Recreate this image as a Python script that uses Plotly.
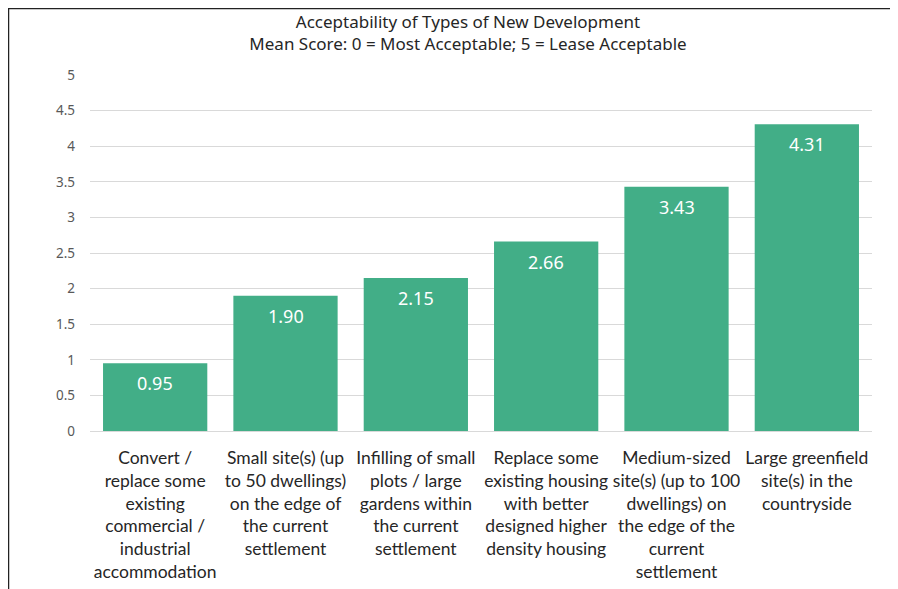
import plotly.graph_objects as go

categories = [
    "Convert /<br>replace some<br>existing<br>commercial /<br>industrial<br>accommodation",
    "Small site(s) (up<br>to 50 dwellings)<br>on the edge of<br>the current<br>settlement",
    "Infilling of small<br>plots / large<br>gardens within<br>the current<br>settlement",
    "Replace some<br>existing housing<br>with better<br>designed higher<br>density housing",
    "Medium-sized<br>site(s) (up to 100<br>dwellings) on<br>the edge of the<br>current<br>settlement",
    "Large greenfield<br>site(s) in the<br>countryside",
]
mean_scores = [0.95, 1.90, 2.15, 2.66, 3.43, 4.31]
y_ticks = [0, 0.5, 1, 1.5, 2, 2.5, 3, 3.5, 4, 4.5, 5]
y_tick_labels = ["0", "0.5", "1", "1.5", "2", "2.5", "3", "3.5", "4", "4.5", "5"]

FONT = "Noto Sans"
BAR = "#42ae87"

# page has an 8px body margin; figure is laid out to compensate
OFF = 8
W, H = 898 - OFF, 589 - OFF
ml, mt = 90 - OFF, 75 - OFF
mr = W - (872 - OFF)
mb = H - (431 - OFF)
pw, ph = W - ml - mr, H - mt - mb

def px(x):
    return (x - OFF - ml) / pw

def py(y):
    return (H - mb - (y - OFF)) / ph

fig = go.Figure()
fig.add_trace(go.Bar(
    x=categories,
    y=mean_scores,
    marker=dict(color=BAR, line=dict(width=0)),
    hoverinfo="x+y",
))

for cat, v in zip(categories, mean_scores):
    fig.add_annotation(
        x=cat, y=v, xref="x", yref="y",
        text=f"{v:.2f}", showarrow=False,
        yanchor="top", yshift=-6,
        font=dict(family=FONT, size=18, color="white"),
    )

fig.update_layout(
    width=W, height=H,
    margin=dict(l=ml, r=mr, t=mt, b=mb, autoexpand=False),
    paper_bgcolor="white",
    plot_bgcolor="white",
    bargap=0.2,
    showlegend=False,
    title=dict(
        text="Acceptability of Types of New Development<br>Mean Score: 0 = Most Acceptable; 5 = Lease Acceptable",
        x=(468 - OFF) / W, xanchor="center",
        y=1 - (28 - OFF) / H, yanchor="middle",
        font=dict(family=FONT, size=17, color="#262626"),
    ),
    xaxis=dict(
        tickfont=dict(family="Lato", size=17.5, color="#262626"),
        showline=True, linecolor="#d9d9d9", linewidth=1,
        ticks="", fixedrange=True,
        ticklabelstandoff=11,
    ),
    yaxis=dict(
        range=[0, 5],
        tickvals=y_ticks, ticktext=y_tick_labels,
        tickfont=dict(family=FONT, size=13.5, color="#595959"),
        showgrid=True, gridcolor="#d9d9d9", gridwidth=1,
        zeroline=False, showline=False, ticks="",
        ticklabelstandoff=14,
    ),
    shapes=[
        dict(type="line", xref="paper", yref="paper",
             x0=px(8.5), x1=px(8.5), y0=py(8), y1=py(589),
             line=dict(color="#222222", width=1.5)),
        dict(type="line", xref="paper", yref="paper",
             x0=px(8), x1=px(895), y0=py(8.5), y1=py(8.5),
             line=dict(color="#222222", width=1.5)),
    ],
)

fig.write_html("out.html")
